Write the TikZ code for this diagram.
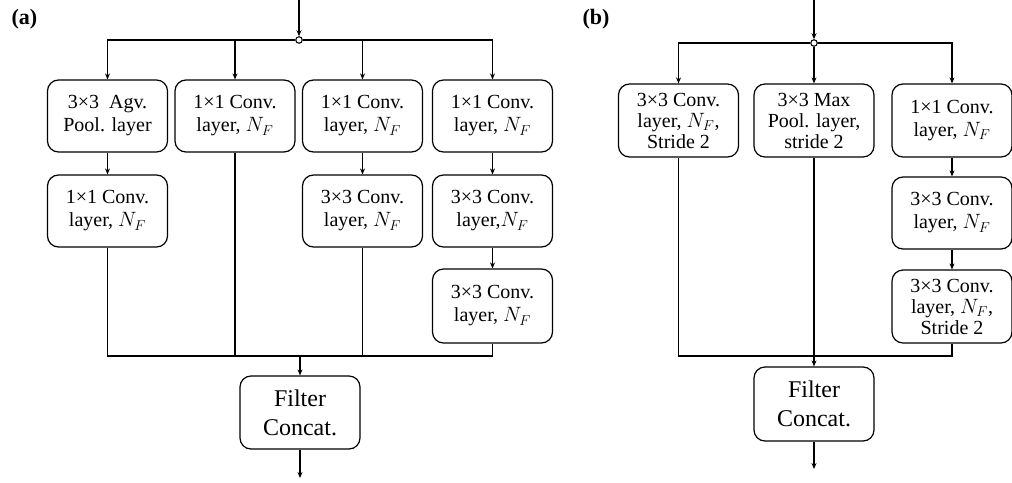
\documentclass[tikz,border=0pt]{standalone}
\usepackage{fontspec}
\setmainfont{Liberation Serif}
\usetikzlibrary{arrows.meta}
\tikzset{
  blk/.style={draw, rounded corners=11pt, line width=1.2pt, minimum width=120pt,
    minimum height=72pt, align=center, inner sep=1pt,
    font=\fontsize{20}{23}\selectfont},
  blk3/.style={blk, font=\fontsize{20}{21}\selectfont},
  cat/.style={blk, font=\fontsize{24}{29}\selectfont, minimum height=73pt},
  wire/.style={line width=1.1pt},
  arr/.style={wire, -{Stealth[length=6pt,width=5pt]}},
  junc/.style={circle, draw, line width=1.1pt, fill=white, inner sep=0pt, minimum size=6.5pt},
  tag/.style={font=\fontsize{22}{24}\selectfont\bfseries}
}
\begin{document}
\begin{tikzpicture}[x=1pt, y=-1pt]
\useasboundingbox (0,0) rectangle (1012,482);

% ---------- (a) ----------
\node[tag] (la) at (24.5,19) {(a)};
\coordinate (ina) at (299,0);
\node[junc] (ja) at (299,40) {};

\node[blk] (a1) at (107.5,116) {3×3~ Agv.\\Pool. layer};
\node[blk] (a2) at (235,116) {1×1 Conv.\\layer, $N_F$};
\node[blk] (a3) at (362.5,116) {1×1 Conv.\\layer, $N_F$};
\node[blk] (a4) at (492.5,116) {1×1 Conv.\\layer, $N_F$};
\node[blk] (a1b) at (107.5,211) {1×1 Conv.\\layer, $N_F$};
\node[blk] (a3b) at (362.5,211) {3×3 Conv.\\layer, $N_F$};
\node[blk] (a4b) at (492.5,211) {3×3 Conv.\\layer,$N_F$};
\node[blk, minimum height=74pt] (a4c) at (492.5,306) {3×3 Conv.\\layer, $N_F$};
\node[cat] (fa) at (300,412.5) {Filter\\Concat.};
\coordinate (ma) at (300,356);
\coordinate (outa) at (300,478);

\draw[arr] (ina) -- (ja.north);
\draw[arr] (ja.west) -| (a1.north);
\draw[arr] (ja.west) -| (a2.north);
\draw[arr] (ja.east) -| (a3.north);
\draw[arr] (ja.east) -| (a4.north);
\draw[arr] (a1.south) -- (a1b.north);
\draw[arr] (a3.south) -- (a3b.north);
\draw[arr] (a4.south) -- (a4b.north);
\draw[arr] (a4b.south) -- (a4c.north);
\draw[wire] (a1b.south) |- (ma);
\draw[wire] (a2.south) |- (ma);
\draw[wire] (a3b.south) |- (ma);
\draw[wire] (a4c.south) |- (ma);
\draw[arr] (ma) -- (fa.north);
\draw[arr] (fa.south) -- (outa);

% ---------- (b) ----------
\node[tag] (lb) at (596,19) {(b)};
\coordinate (inb) at (814,0);
\node[junc] (jb) at (814,43) {};

\node[blk3, minimum height=73pt] (b1) at (678.5,120.5) {3×3 Conv.\\layer, $N_F$,\\Stride 2};
\node[blk3, minimum height=73pt] (b2) at (814,120.5) {3×3 Max\\Pool. layer,\\stride 2};
\node[blk, minimum height=73pt] (b3) at (952,120.5) {1×1 Conv.\\layer, $N_F$};
\node[blk] (b3b) at (952,213) {3×3 Conv.\\layer, $N_F$};
\node[blk3, minimum height=73pt] (b3c) at (952,306.5) {3×3 Conv.\\layer, $N_F$,\\Stride 2};
\node[cat, minimum height=74pt] (fb) at (814,404) {Filter\\Concat.};
\coordinate (mb) at (814,356);
\coordinate (outb) at (814,469);

\draw[arr] (inb) -- (jb.north);
\draw[arr] (jb.west) -| (b1.north);
\draw[arr] (jb.south) -- (b2.north);
\draw[arr] (jb.east) -| (b3.north);
\draw[arr] (b3.south) -- (b3b.north);
\draw[arr] (b3b.south) -- (b3c.north);
\draw[wire] (b1.south) |- (mb);
\draw[wire] (b3c.south) |- (mb);
\draw[arr] (b2.south) -- (fb.north);
\draw[arr] (fb.south) -- (outb);
\end{tikzpicture}
\end{document}
